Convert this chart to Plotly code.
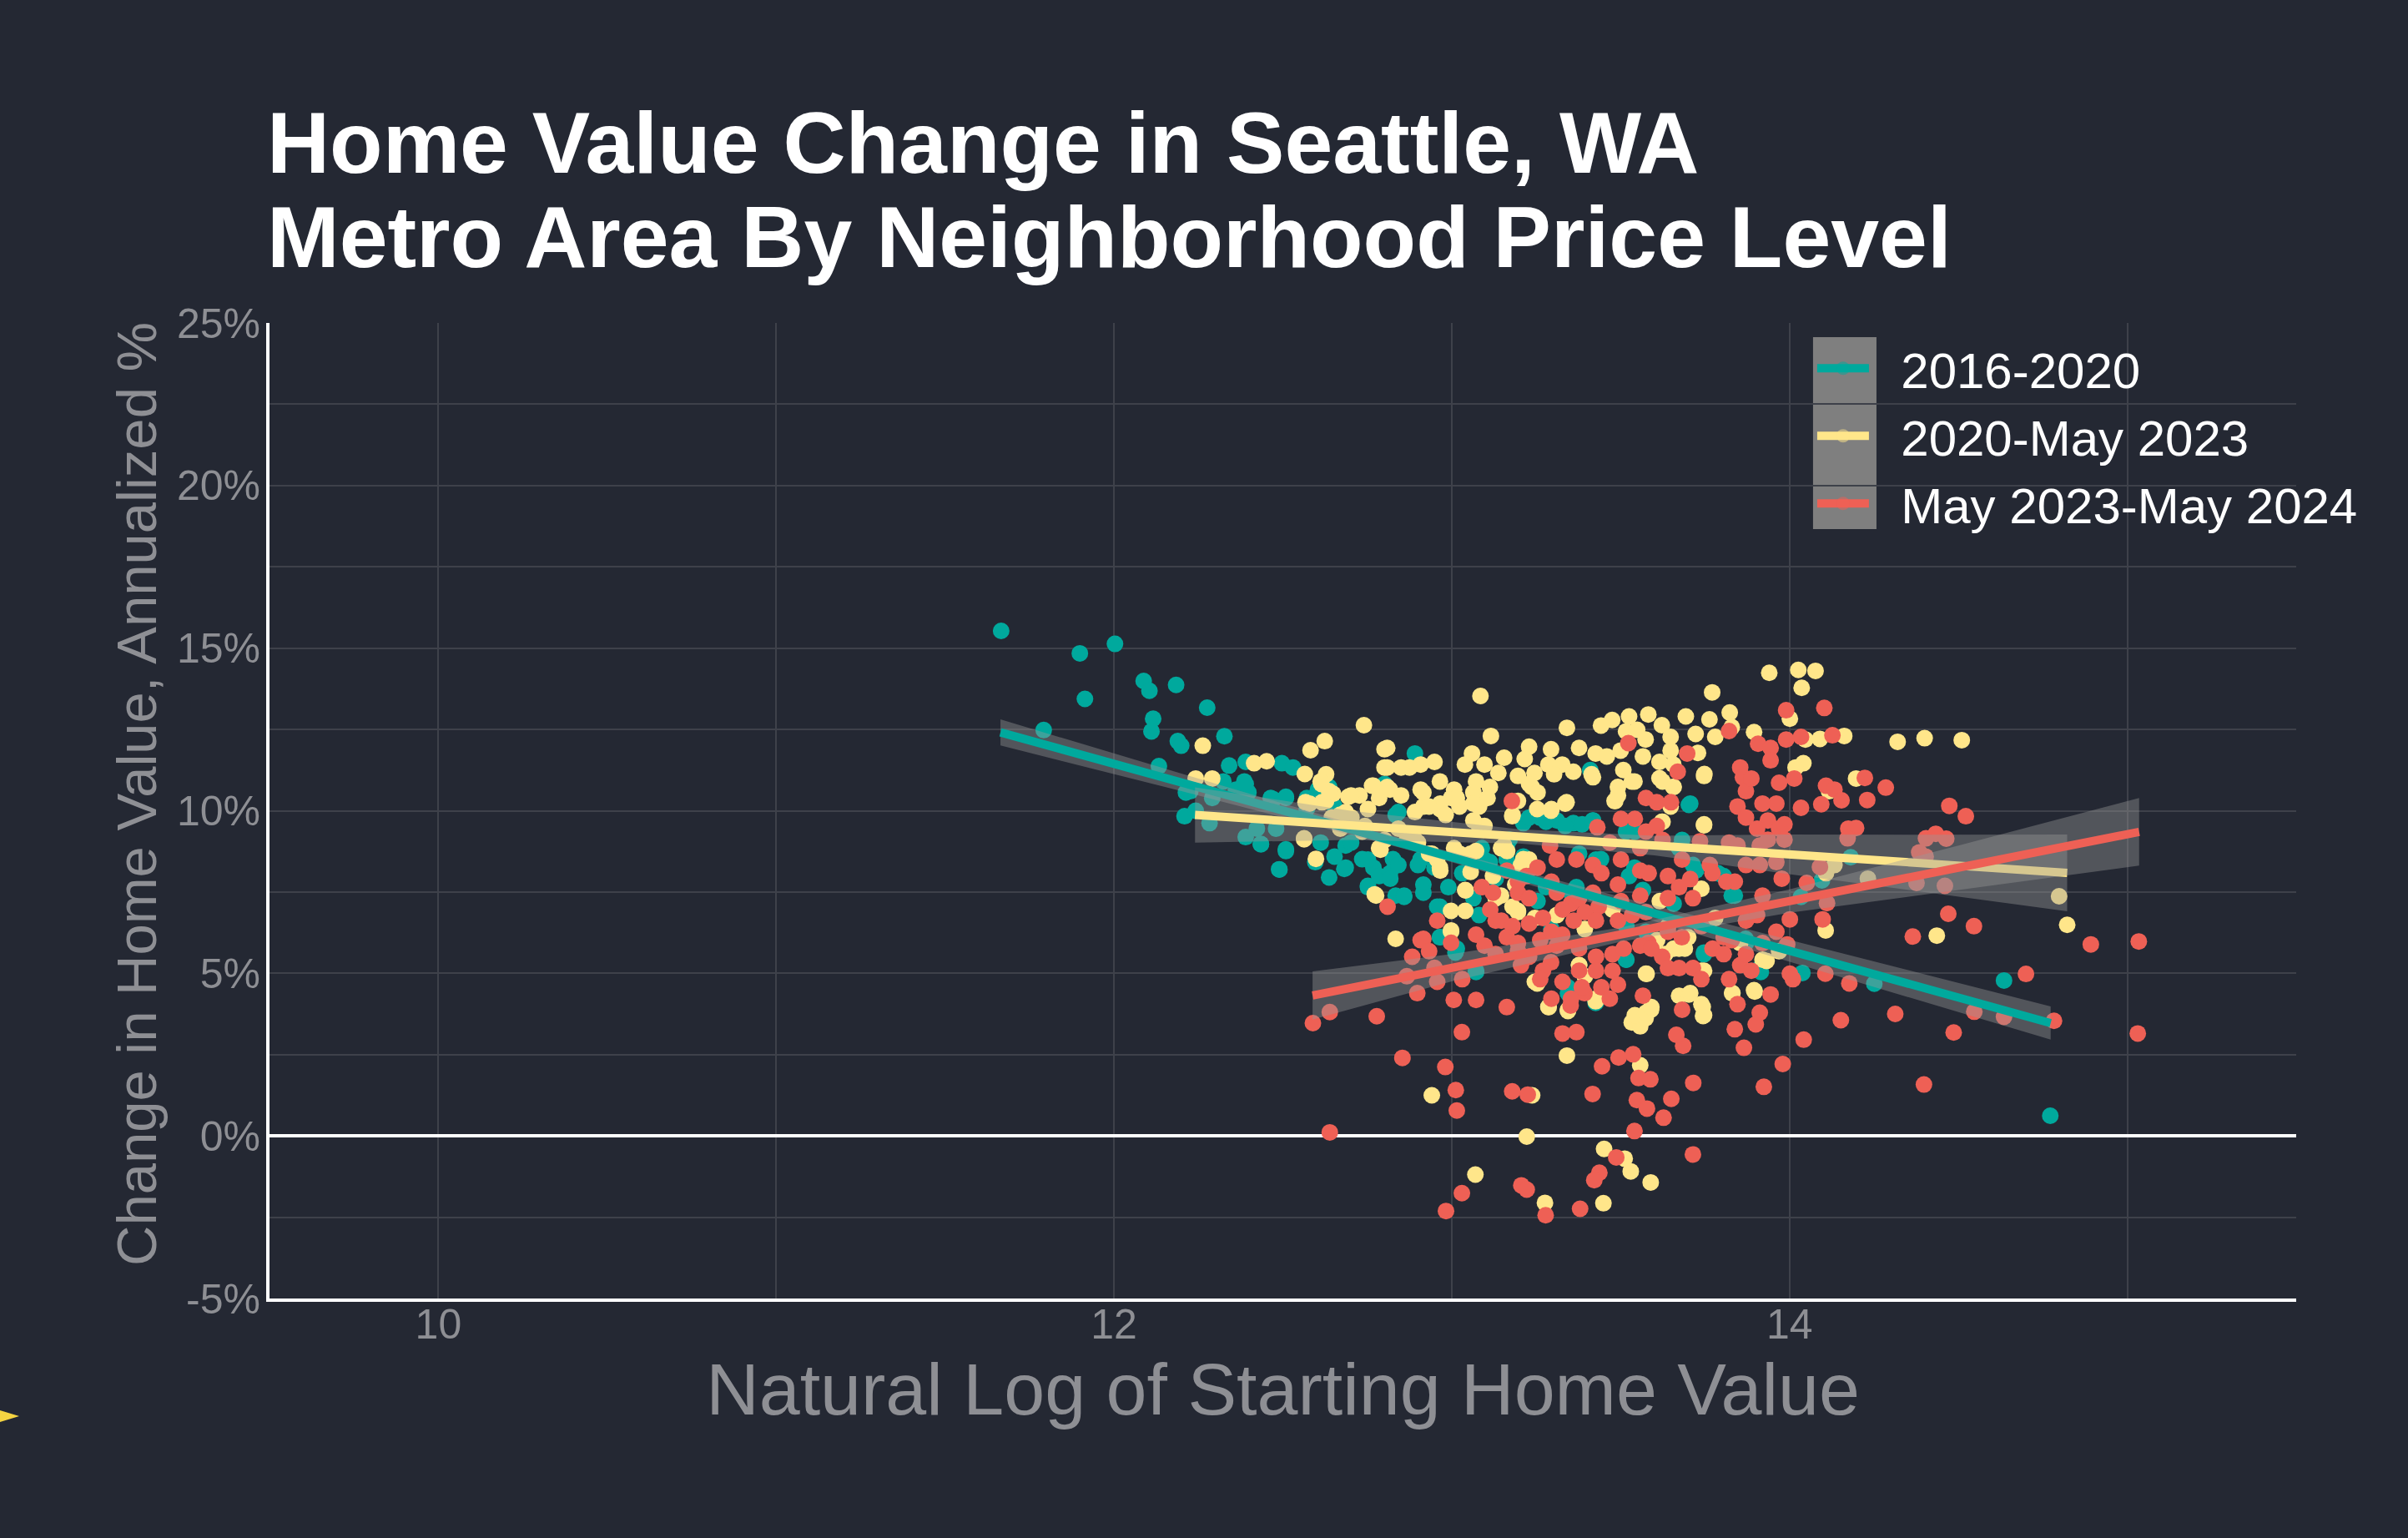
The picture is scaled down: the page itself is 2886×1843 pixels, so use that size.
import plotly.graph_objects as go

# ---------------- data ----------------
series_names = ["2016-2020", "2020-May 2023", "May 2023-May 2024"]

# (log starting value, annualized % change)
teal_pts = [
    (11.666, 15.53), (11.899, 14.84), (12.003, 15.13), (11.914, 13.44), (11.792, 12.48),
    (12.088, 13.99), (12.105, 13.69), (12.184, 13.87), (12.276, 13.17), (12.116, 12.83),
    (12.111, 12.44), (12.189, 12.14), (12.199, 12.00), (12.327, 12.29), (12.133, 11.37),
    (12.341, 11.39), (12.390, 11.50), (12.497, 11.46), (12.530, 11.33), (12.213, 10.56),
    (12.226, 10.60), (12.324, 10.90), (12.386, 10.90), (12.361, 10.65), (12.398, 10.56),
    (12.291, 10.39), (12.209, 9.83), (12.242, 10.00), (12.283, 9.62), (12.472, 10.35),
    (12.509, 10.39), (12.390, 9.19), (12.435, 8.98), (12.509, 8.81), (12.490, 8.19),
    (12.637, 7.95), (12.682, 8.21), (12.735, 8.51), (12.752, 7.69), (12.596, 8.42),
    (12.653, 8.59), (12.604, 10.65), (12.637, 10.73), (12.571, 10.39), (12.480, 9.45),
    (12.423, 9.45), (12.686, 8.93), (12.768, 8.25), (12.785, 7.99),
    (12.891, 11.76), (12.801, 10.82), (12.842, 9.96), (13.410, 11.25), (13.702, 10.18),
    (13.418, 9.70), (13.212, 9.62), (13.261, 9.79), (13.311, 9.70), (13.360, 9.62),
    (12.826, 8.51), (12.817, 8.08), (12.834, 7.39), (12.859, 7.39), (12.916, 7.73),
    (12.949, 8.25), (12.908, 8.51), (12.965, 7.05), (13.089, 8.85), (13.113, 8.42),
    (13.130, 7.91), (13.171, 9.11), (13.212, 8.59), (13.237, 8.25), (13.377, 8.68),
    (13.442, 8.51), (13.516, 9.36), (13.541, 8.25), (13.566, 7.56), (13.673, 8.85),
    (13.714, 8.33), (13.829, 7.39), (13.788, 8.08),
    (14.181, 8.57), (14.096, 7.86), (14.034, 7.35),
    (14.038, 5.01), (14.251, 4.68), (14.635, 4.78), (14.772, 0.62),
    (12.965, 6.11), (13.344, 4.39), (13.426, 4.09), (13.747, 5.64), (13.915, 5.04),
    (13.870, 6.06), (13.516, 5.42), (13.072, 5.04), (13.011, 5.64),
    (12.489, 8.20), (12.509, 8.76), (12.435, 8.97), (12.390, 10.82), (12.464, 10.39),
    (12.509, 10.43), (12.686, 8.25), (12.612, 9.02), (12.702, 9.02), (12.752, 8.50),
    (12.752, 7.65), (12.818, 7.91), (12.859, 7.35), (12.842, 8.33), (12.900, 8.33),
    (12.916, 7.48), (12.957, 7.05), (12.966, 6.11), (12.990, 7.65), (13.031, 8.08),
    (13.064, 7.31), (13.081, 6.79), (13.097, 8.50), (13.015, 5.76), (13.072, 5.08),
    (12.834, 9.87), (12.571, 10.05), (12.653, 10.13),
    (13.706, 10.22), (13.229, 9.79), (13.279, 9.66), (13.336, 9.53), (13.386, 9.58),
    (13.418, 9.70), (13.542, 9.36), (13.682, 9.10), (13.163, 8.93), (13.163, 8.50),
    (13.427, 8.50), (13.353, 7.48), (13.369, 7.65), (13.279, 7.65), (13.525, 7.99),
    (13.723, 8.16), (13.805, 7.99), (13.838, 7.39), (13.657, 7.14), (13.254, 7.22),
    (13.295, 6.36), (13.517, 6.45), (13.575, 6.28), (13.747, 5.59), (13.871, 5.93),
    (13.912, 5.16), (13.517, 5.42), (13.344, 4.57), (13.427, 4.14),
]

yellow_pts = [
    (12.263, 12.00), (12.740, 12.63), (12.624, 12.14), (12.582, 11.86), (12.801, 11.89),
    (12.801, 11.33), (12.415, 11.46), (12.452, 11.52), (12.242, 10.99), (12.291, 10.99),
    (12.565, 11.13), (12.628, 11.12), (12.614, 10.82), (12.649, 10.52), (12.694, 10.43),
    (12.727, 10.47), (12.764, 10.77), (12.567, 10.26), (12.616, 10.26), (12.670, 9.88),
    (12.703, 9.79), (12.752, 10.05), (12.785, 10.39), (12.563, 9.12), (12.598, 8.52),
    (12.735, 9.36), (12.785, 8.85), (12.772, 7.43), (12.645, 9.79),
    (13.085, 13.53), (13.116, 12.30), (13.341, 12.55), (13.771, 13.64), (13.940, 14.24),
    (13.823, 13.02), (13.693, 12.90), (13.763, 12.81), (13.895, 12.42), (13.582, 12.96),
    (13.525, 12.90), (13.475, 12.79), (13.442, 12.62), (13.622, 12.63), (13.648, 12.27),
    (13.722, 12.36), (13.780, 12.27), (13.829, 12.57), (13.729, 11.78), (13.549, 12.49),
    (13.516, 12.44), (13.426, 11.76), (13.459, 11.67), (13.500, 11.85), (13.574, 12.19),
    (13.566, 11.67), (13.615, 11.50), (13.648, 11.85), (13.656, 11.42), (13.508, 11.25),
    (13.541, 10.90), (13.492, 10.73), (13.482, 10.30), (13.615, 11.00), (13.656, 10.73),
    (13.748, 11.13), (13.747, 9.55), (13.622, 9.66), (13.648, 10.13), (13.377, 11.93),
    (13.294, 11.89), (13.229, 11.97), (13.216, 11.59), (13.286, 11.42), (13.327, 11.42),
    (13.360, 11.20), (13.303, 11.12), (13.245, 11.16), (13.196, 11.07), (13.237, 10.73),
    (13.253, 10.05), (13.294, 10.00), (13.340, 10.26), (13.179, 9.83), (13.414, 11.12),
    (13.155, 11.63), (13.138, 11.16), (13.097, 11.42), (13.060, 11.76), (13.039, 11.42),
    (13.113, 10.73), (13.064, 10.56), (13.081, 10.13), (13.023, 10.13), (13.007, 10.65),
    (12.965, 10.90), (12.949, 11.50), (12.908, 11.42), (12.875, 11.33), (12.850, 11.33),
    (12.809, 11.93), (12.809, 11.33), (12.809, 10.73), (12.850, 10.47), (12.908, 10.65),
    (12.916, 10.13), (12.965, 10.05), (12.998, 10.39), (12.842, 9.45), (12.891, 9.11),
    (12.941, 8.68), (12.965, 8.25), (13.007, 8.85), (13.056, 8.68), (13.056, 8.12),
    (13.122, 7.99), (13.155, 8.93), (13.212, 8.51), (13.188, 7.73), (13.146, 7.39),
    (13.040, 7.56), (12.998, 6.92), (13.040, 6.92), (13.196, 6.92), (13.081, 9.53),
    (14.026, 14.33), (14.077, 14.30), (14.036, 13.78), (14.001, 12.83), (14.047, 12.19),
    (14.090, 12.21), (14.162, 12.30), (14.320, 12.12), (14.400, 12.23), (14.510, 12.17),
    (14.041, 11.46), (14.018, 11.33), (14.197, 10.99), (14.117, 10.60), (14.133, 8.33),
    (14.108, 8.08), (14.232, 7.91), (14.798, 7.37), (14.822, 6.49),
    (14.107, 6.32), (14.436, 6.16),
    (12.834, 6.06), (12.998, 6.28), (12.941, 1.25), (13.070, -1.19), (13.222, -0.02),
    (13.238, 1.25), (13.341, 2.47), (13.286, 3.97), (13.344, 3.84), (13.253, 4.69),
    (13.377, 5.25), (13.426, 4.14), (13.577, 4.98), (13.533, 3.49), (13.574, 3.62),
    (13.590, 3.88), (13.558, 3.37), (13.558, 2.17), (13.451, -0.40), (13.512, -0.70),
    (13.530, -1.09), (13.589, -1.43), (13.276, -2.06), (13.449, -2.07), (13.673, 4.31),
    (13.702, 4.35), (13.743, 3.97), (13.744, 3.69), (13.747, 5.08), (13.673, 5.76),
    (13.831, 4.39), (13.897, 4.44), (13.932, 5.38), (13.969, 5.68),
    (12.563, 9.15), (12.776, 7.39), (12.998, 6.32), (13.041, 7.55), (13.130, 7.31),
    (13.146, 8.85), (12.957, 8.50), (12.966, 8.16), (12.933, 8.68), (13.023, 8.68),
    (13.072, 8.76), (13.097, 9.53), (12.900, 9.02), (12.867, 9.11), (12.789, 8.80),
    (12.801, 9.10), (12.743, 9.53), (12.670, 9.45), (12.579, 10.22), (12.628, 10.30),
    (12.686, 9.96), (12.637, 10.60), (12.702, 10.47), (12.768, 10.77), (12.817, 10.65),
    (12.916, 10.56), (12.966, 10.22), (13.015, 10.39), (13.064, 10.22), (13.106, 10.39),
    (13.072, 10.90), (12.933, 10.13), (12.891, 9.96), (12.982, 9.87), (13.064, 9.70),
    (12.612, 10.90),
    (13.418, 11.03), (13.492, 10.47), (13.533, 10.90), (13.484, 10.30), (13.229, 10.82),
    (13.254, 10.56), (13.196, 10.30), (13.180, 9.87), (13.295, 10.05), (13.336, 10.22),
    (13.624, 10.90), (13.657, 10.73), (13.747, 11.07), (13.747, 9.58), (13.624, 9.66),
    (13.616, 7.22), (13.739, 7.60), (13.229, 8.50), (13.205, 8.33), (13.180, 7.05),
    (13.476, 6.96), (13.394, 6.36), (13.657, 5.76), (13.690, 5.76), (13.575, 4.99),
    (13.377, 5.25), (13.394, 4.91), (13.246, 4.74), (13.427, 4.22), (13.287, 3.96),
    (13.344, 3.88), (13.706, 4.39), (13.739, 4.05), (13.747, 3.71), (13.542, 3.71),
    (13.575, 3.79), (13.591, 3.96), (13.830, 4.39), (13.895, 4.48), (13.739, 5.08),
    (13.608, 6.02), (13.632, 5.59), (13.920, 5.42), (13.854, 5.93),
    (13.196, 6.88), (13.246, 6.70), (13.311, 6.79), (13.164, 8.76), (13.640, 6.45),
    (13.700, 6.11), (13.780, 6.70),
]

red_pts = [
    (12.810, 7.05),
    (13.523, 12.08), (13.821, 12.45), (13.697, 11.76), (13.669, 11.20), (13.990, 13.09),
    (13.990, 12.19), (13.907, 12.06), (13.944, 11.93), (13.944, 11.55), (13.854, 11.33),
    (13.862, 11.03), (13.969, 10.86), (13.961, 10.22), (13.936, 9.70), (13.969, 9.45),
    (13.936, 9.11), (13.961, 8.42), (12.957, 6.62), (13.130, 6.62), (13.122, 7.48),
    (13.089, 7.65), (13.977, 7.91),
    (14.103, 13.16), (14.034, 12.27), (14.127, 12.32), (14.014, 10.99), (14.223, 11.01),
    (14.285, 10.71), (14.108, 10.77), (14.133, 10.65), (14.154, 10.32), (14.230, 10.33),
    (14.094, 10.20), (14.034, 10.09), (13.985, 9.58), (14.473, 10.15), (14.522, 9.83),
    (14.174, 9.45), (14.197, 9.47), (14.172, 9.15), (14.404, 9.15), (14.433, 9.29),
    (14.464, 9.14), (14.384, 8.72), (14.403, 8.59), (14.090, 8.27), (14.051, 7.78),
    (14.376, 7.78), (14.460, 7.69), (14.111, 7.16), (14.470, 6.83), (14.001, 6.66),
    (14.098, 6.66), (14.546, 6.45), (13.985, 9.11),
    (14.365, 6.13), (14.892, 5.89), (15.034, 5.98), (13.993, 5.89), (14.001, 4.99),
    (14.010, 4.82), (14.106, 4.99), (14.177, 4.69), (14.700, 4.98), (14.152, 3.56),
    (14.313, 3.75), (14.042, 2.96), (14.547, 3.82), (14.635, 3.66), (14.783, 3.54),
    (14.486, 3.18), (15.031, 3.15), (13.980, 2.21), (14.398, 1.58),
    (12.589, 3.47), (12.639, 3.81), (12.778, 3.68), (12.639, 0.11),
    (12.854, 2.40), (12.981, 2.12), (13.012, 1.41), (13.015, 0.78), (13.030, 3.19),
    (13.006, 4.18), (13.072, 4.18), (12.898, 4.39), (12.908, 6.02), (12.998, 5.94),
    (13.072, 6.19), (12.883, 5.51), (13.031, 4.82), (12.957, 4.74), (13.179, 1.37),
    (13.225, 1.27), (13.417, 1.29), (13.445, 2.14), (13.494, 2.41), (13.537, 2.51),
    (13.553, 1.78), (13.588, 1.74), (13.548, 1.10), (13.578, 0.84), (13.627, 0.56),
    (13.650, 1.14), (13.715, 1.63), (13.541, 0.15), (13.714, -0.57), (13.487, -0.66),
    (13.437, -1.13), (13.422, -1.36), (13.206, -1.52), (13.222, -1.65), (13.030, -1.76),
    (12.983, -2.31), (13.278, -2.44), (13.380, -2.24), (13.685, 2.77), (13.865, 2.71),
    (13.924, 1.51), (13.944, 4.35), (13.900, 3.43), (13.854, 5.25), (13.829, 6.02),
    (13.352, 4.01), (13.393, 4.39), (13.377, 5.08), (13.294, 5.34), (13.229, 5.51),
    (13.196, 5.68), (13.163, 6.11), (13.262, 6.02), (13.327, 6.19), (13.582, 5.94),
    (13.623, 5.51), (13.681, 6.11), (13.961, 6.28), (13.130, 5.59), (12.949, 5.17),
    (12.916, 6.06), (12.933, 5.68), (13.097, 5.85), (13.114, 6.96), (12.867, 4.91),
    (13.178, 10.30), (13.575, 10.39), (13.607, 10.26), (13.649, 10.26), (13.871, 10.60),
    (13.887, 10.99), (13.846, 10.13), (13.871, 9.79), (13.920, 10.22), (13.501, 9.75),
    (13.542, 9.75), (13.431, 9.49), (13.468, 9.02), (13.575, 9.36), (13.607, 9.53),
    (13.624, 9.10), (13.558, 8.85), (13.735, 9.06), (13.821, 9.02), (13.846, 8.93),
    (13.912, 8.93), (13.682, 8.50), (13.764, 8.33), (13.871, 8.33), (13.912, 8.33),
    (13.291, 8.93), (13.163, 8.16), (13.221, 7.99), (13.254, 8.25), (13.311, 8.50),
    (13.369, 8.50), (13.418, 8.33), (13.443, 8.08), (13.501, 8.50), (13.558, 8.16),
    (13.583, 8.08), (13.640, 7.99), (13.706, 7.90), (13.772, 8.08), (13.813, 7.82),
    (13.838, 7.82), (13.196, 7.82), (13.196, 7.48), (13.229, 7.31), (13.295, 7.82),
    (13.311, 7.48), (13.353, 7.14), (13.377, 7.31), (13.418, 7.48), (13.435, 7.05),
    (13.492, 7.73), (13.501, 7.22), (13.558, 7.39), (13.640, 7.31), (13.673, 7.65),
    (13.714, 7.31), (13.920, 7.39), (13.147, 6.62), (13.180, 6.45), (13.229, 6.53),
    (13.270, 6.70), (13.295, 6.28), (13.328, 6.96), (13.361, 6.62), (13.394, 6.88),
    (13.427, 6.62), (13.492, 6.62), (13.534, 6.79), (13.575, 6.88), (13.640, 6.28),
    (13.739, 6.45), (13.805, 6.11), (13.871, 6.62), (13.904, 6.79), (13.920, 5.93),
    (13.772, 5.76), (13.805, 5.59), (13.871, 5.59), (13.887, 5.08), (13.821, 4.82),
    (13.196, 5.93), (13.311, 5.85), (13.377, 5.76), (13.427, 5.51), (13.476, 5.59),
    (13.509, 5.76), (13.558, 5.85), (13.591, 5.76), (13.205, 5.25), (13.270, 5.08),
    (13.328, 4.74), (13.385, 4.57), (13.427, 5.08), (13.476, 5.08), (13.492, 4.65),
    (13.443, 4.57), (13.468, 4.22), (13.640, 5.16), (13.673, 5.16), (13.714, 5.16),
    (13.739, 4.82), (13.353, 4.22), (13.295, 4.22), (13.262, 4.82), (13.566, 4.31),
    (13.682, 3.88), (13.846, 4.05), (13.912, 3.79), (13.838, 3.28), (13.163, 3.96),
    (13.328, 3.15), (13.369, 3.19), (13.665, 3.11), (13.904, 9.45),
]

# linear fits with confidence band, read at a few x positions
fit_teal_x = [11.664, 12.2, 12.9, 13.5, 13.985, 14.38, 14.773]
fit_teal_y = [12.41, 10.87, 8.86, 7.13, 5.73, 4.60, 3.47]
fit_teal_lo = [12.01, 10.60, 8.72, 6.91, 5.39, 4.18, 2.96]
fit_teal_hi = [12.81, 11.14, 9.00, 7.35, 6.07, 5.02, 3.98]

fit_yel_x = [12.24, 12.7, 13.2, 13.6, 13.985, 14.4, 14.822]
fit_yel_y = [9.87, 9.55, 9.21, 8.93, 8.67, 8.38, 8.09]
fit_yel_lo = [9.02, 9.10, 8.99, 8.63, 8.07, 7.50, 6.91]
fit_yel_hi = [10.72, 10.00, 9.43, 9.23, 9.27, 9.26, 9.27]

fit_red_x = [12.588, 13.0, 13.5, 14.0, 14.5, 15.035]
fit_red_y = [4.32, 5.17, 6.19, 7.22, 8.25, 9.35]
fit_red_lo = [3.58, 4.75, 5.97, 6.86, 7.57, 8.31]
fit_red_hi = [5.06, 5.59, 6.41, 7.58, 8.93, 10.39]

x_tickvals = [10, 12, 14]
y_tickvals = [-5, 0, 5, 10, 15, 20, 25]
y_ticktext = ["-5%", "0%", "5%", "10%", "15%", "20%", "25%"]

# ---------------- styling ----------------
BG = "#242833"
GRID = "#3e414a"
GRAYTXT = "#8e8f94"
COLORS = ["#00a99d", "#ffe68a", "#ee6055"]
BAND = "rgba(153,153,153,0.4)"
FONT = "Liberation Sans, Arial, sans-serif"

fig = go.Figure()

for pts, col in zip([teal_pts, yellow_pts, red_pts], COLORS):
    fig.add_trace(go.Scatter(
        x=[p[0] for p in pts], y=[p[1] for p in pts], mode="markers",
        marker=dict(size=20, color=col, line=dict(width=0)),
        showlegend=False, hoverinfo="skip"))

fits = [
    (fit_teal_x, fit_teal_y, fit_teal_lo, fit_teal_hi),
    (fit_yel_x, fit_yel_y, fit_yel_lo, fit_yel_hi),
    (fit_red_x, fit_red_y, fit_red_lo, fit_red_hi),
]
for (fx, fy, lo, hi), col in zip(fits, COLORS):
    fig.add_trace(go.Scatter(
        x=fx + fx[::-1], y=hi + lo[::-1], mode="lines", fill="toself",
        fillcolor=BAND, line=dict(width=0), showlegend=False, hoverinfo="skip"))
    fig.add_trace(go.Scatter(
        x=fx, y=fy, mode="lines", line=dict(color=col, width=10),
        showlegend=False, hoverinfo="skip"))

# legend entries (non-breaking spaces give the gap between key and label)
for name, col in zip(series_names, COLORS):
    fig.add_trace(go.Scatter(
        x=[None], y=[None], mode="lines+markers", name="\u00a0\u00a0" + name,
        line=dict(color=col, width=12),
        marker=dict(size=20, color=col, opacity=0.5),
        hoverinfo="skip"))

L, R, T, B = 323, 134, 387, 287
fig.update_layout(
    width=2886, height=1843,
    margin=dict(l=L, r=R, t=T, b=B, autoexpand=False),
    paper_bgcolor=BG, plot_bgcolor=BG,
    font=dict(family=FONT, color=GRAYTXT),
    showlegend=True,
    legend=dict(
        x=0.7616, y=0.9925, xanchor="left", yanchor="top",
        bgcolor="rgba(0,0,0,0)", borderwidth=0,
        font=dict(family=FONT, size=60, color="white"),
        itemwidth=62, traceorder="normal", tracegroupgap=0,
    ),
    xaxis=dict(
        range=[9.5, 15.5], tickmode="array", tickvals=x_tickvals,
        showgrid=True, gridcolor=GRID, gridwidth=2,
        minor=dict(tickmode="linear", tick0=0, dtick=1, showgrid=True,
                   gridcolor=GRID, gridwidth=2, ticks=""),
        showline=True, linecolor="white", linewidth=4,
        zeroline=False, ticks="", ticklabelstandoff=-16,
        tickfont=dict(family=FONT, size=50, color=GRAYTXT),
        title=dict(text="Natural Log of Starting Home Value",
                   font=dict(family=FONT, size=88, color=GRAYTXT), standoff=12),
    ),
    yaxis=dict(
        range=[-5, 25], tickmode="array", tickvals=y_tickvals, ticktext=y_ticktext,
        showgrid=True, gridcolor=GRID, gridwidth=2,
        minor=dict(tickmode="linear", tick0=0, dtick=2.5, showgrid=True,
                   gridcolor=GRID, gridwidth=2, ticks=""),
        showline=True, linecolor="white", linewidth=4,
        zeroline=True, zerolinecolor="white", zerolinewidth=4,
        ticks="", ticklabelstandoff=-3,
        tickfont=dict(family=FONT, size=50, color=GRAYTXT),
    ),
    shapes=[
        dict(type="rect", xref="paper", yref="paper",
             x0=0.7616, x1=0.7929, y0=0.7887, y1=0.9855,
             fillcolor="#7f7f7f", line=dict(width=0), layer="below"),
        dict(type="path", xref="paper", yref="paper",
             path="M -0.1330,-0.1146 L -0.1235,-0.1206 L -0.1330,-0.1266 Z",
             fillcolor="#f5d442", line=dict(width=0)),
    ],
    annotations=[
        dict(text="Home Value Change in Seattle, WA", xref="paper", yref="paper",
             x=-0.002, y=1.1848, xanchor="left", yanchor="middle", showarrow=False,
             font=dict(family=FONT, size=104, color="white", weight="bold")),
        dict(text="Metro Area By Neighborhood Price Level", xref="paper", yref="paper",
             x=-0.002, y=1.0881, xanchor="left", yanchor="middle", showarrow=False,
             font=dict(family=FONT, size=104, color="white", weight="bold")),
        dict(text="Change in Home Value, Annualized %", xref="paper", yref="paper",
             x=-0.0659, y=0.5175, xanchor="center", yanchor="middle",
             textangle=-90, showarrow=False,
             font=dict(family=FONT, size=67, color=GRAYTXT)),
    ],
)

fig.write_html("out.html")
